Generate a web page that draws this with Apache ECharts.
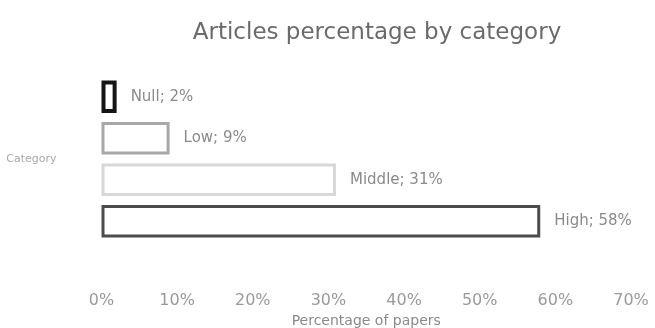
<!DOCTYPE html>
<html><head><meta charset="utf-8">
<script src="https://cdn.jsdelivr.net/npm/echarts@6/dist/echarts.min.js"></script>
<style>html,body{margin:0;padding:0;background:#fff}#c{width:655px;height:328px}</style>
</head><body><div id="c"></div>
<script>
const categories = ['Null', 'Low', 'Middle', 'High'];
const values = [2, 9, 31, 58];
const xTicks = [0, 10, 20, 30, 40, 50, 60, 70];
const borderColors = ['#151515', '#a8a8a8', '#d8d8d8', '#4c4c4c'];
const borderWidths = [4, 3, 3, 3];
const FONT = "'DejaVu Sans', sans-serif";

const chart = echarts.init(document.getElementById('c'), null, {renderer: 'canvas'});
chart.setOption({
  animation: false,
  backgroundColor: '#ffffff',
  title: {
    text: 'Articles percentage by category',
    left: 372, top: 17, textAlign: 'center',
    textStyle: {fontFamily: FONT, fontWeight: 'normal', fontSize: 23, color: '#6a6a6a'}
  },
  grid: {left: 101.5, right: 24, top: 76, bottom: 86, containLabel: false, outerBoundsMode: 'none'},
  xAxis: {
    type: 'value', min: xTicks[0], max: xTicks[xTicks.length - 1], interval: 10,
    name: 'Percentage of papers', nameLocation: 'middle', nameGap: 71,
    nameTextStyle: {fontFamily: FONT, fontSize: 14, color: '#8a8a8a'},
    axisLine: {show: false}, axisTick: {show: false}, splitLine: {show: false},
    axisLabel: {margin: 51, fontFamily: FONT, fontSize: 16, color: '#9a9a9a',
      formatter: v => v + '%'}
  },
  yAxis: {
    type: 'category', data: categories, inverse: true,
    name: 'Category', nameLocation: 'middle', nameGap: 45, nameRotate: 0,
    nameTextStyle: {fontFamily: FONT, fontSize: 11, color: '#a8a8a8'},
    axisLine: {show: false}, axisTick: {show: false}, axisLabel: {show: false}
  },
  series: [{
    type: 'bar',
    barCategoryGap: '22%',
    data: values.map((v, i) => ({
      value: v,
      itemStyle: {color: '#ffffff', borderColor: borderColors[i], borderWidth: borderWidths[i]}
    })),
    label: {
      show: true, position: 'right', distance: 14,
      fontFamily: FONT, fontSize: 15, color: '#8a8a8a',
      formatter: p => p.name + '; ' + p.value + '%'
    }
  }]
});
</script></body></html>
